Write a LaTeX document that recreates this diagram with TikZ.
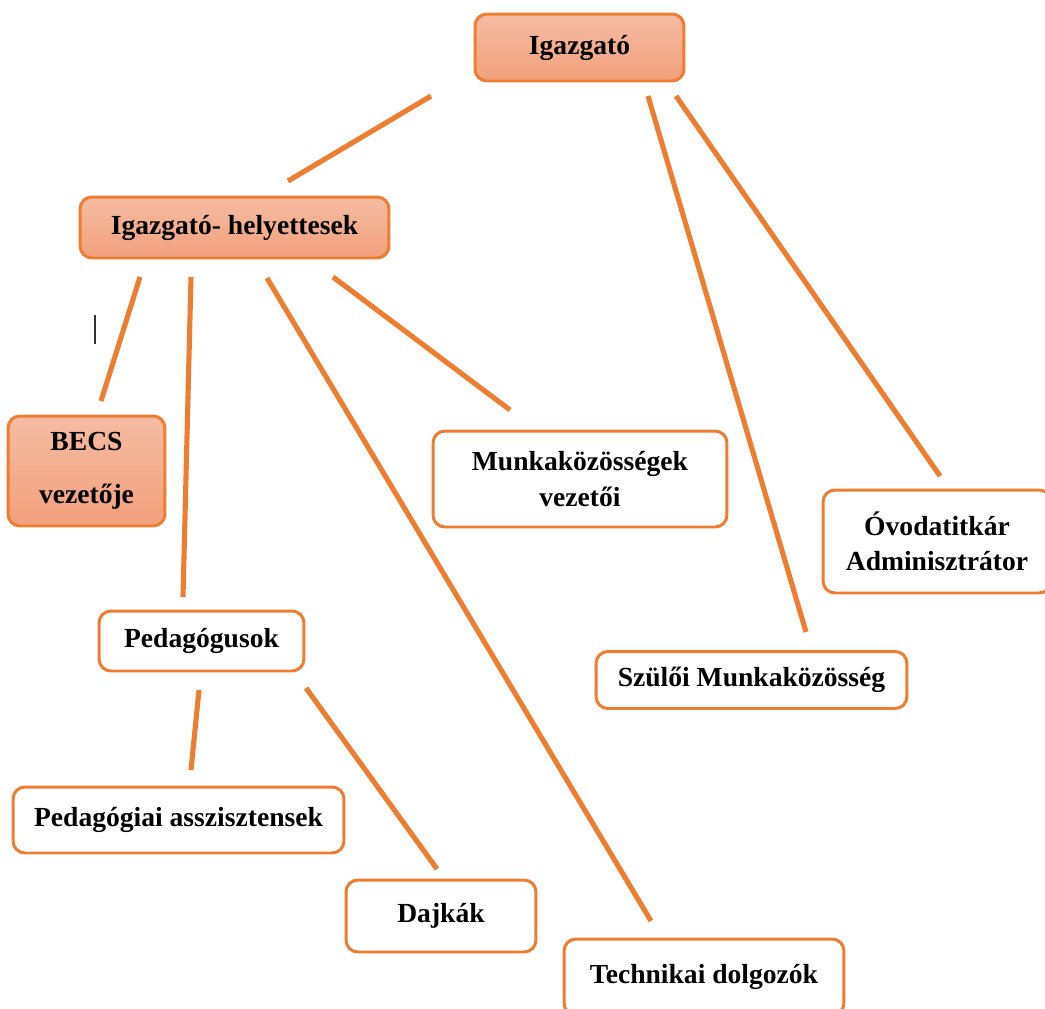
\documentclass[tikz,border=0pt]{standalone}
\usepackage{fontspec}
\setmainfont{Liberation Serif}
\definecolor{orgline}{HTML}{ED7D31}
\definecolor{orgtop}{HTML}{F5BCA3}
\definecolor{orgbot}{HTML}{F2A07C}
\tikzset{
	box/.style={draw=orgline,line width=1.7pt,rounded corners=6.8pt,align=center,inner sep=0pt,
		font=\bfseries\fontsize{15.7}{20}\selectfont},
	lead/.style={box,top color=orgtop,bottom color=orgbot},
	plain/.style={box,fill=white},
	link/.style={orgline,line width=2.9pt},
}
\begin{document}
\begin{tikzpicture}[x=0.02cm,y=-0.02cm]
	\fill[white] (0,0) rectangle (1045,1008);
	\useasboundingbox (0,0) rectangle (1045,1008);
	% boxes
	\node[lead,minimum width=4.18cm,minimum height=1.34cm] (igazgato) at (579.5,47.5) {Igazgató};
	\node[lead,minimum width=6.18cm,minimum height=1.22cm] (helyettes) at (234.5,227.5) {Igazgató- helyettesek};
	\node[lead,minimum width=3.14cm,minimum height=2.2cm] (becs) at (86.5,471) {BECS\\[10pt]vezetője};
	\node[plain,minimum width=5.88cm,minimum height=1.92cm] (munkak) at (580,479) {Munkaközösségek\\vezetői};
	\node[plain,minimum width=4.56cm,minimum height=2.06cm] (titkar) at (937,541.5) {Óvodatitkár\\Adminisztrátor};
	\node[plain,minimum width=6.22cm,minimum height=1.14cm] (szuloi) at (751.5,680) {Szülői Munkaközösség};
	\node[plain,minimum width=4.1cm,minimum height=1.2cm] (pedag) at (201.5,641) {Pedagógusok};
	\node[plain,minimum width=6.62cm,minimum height=1.32cm] (asszisz) at (178.5,820) {Pedagógiai asszisztensek};
	\node[plain,minimum width=3.8cm,minimum height=1.44cm] (dajka) at (441,916) {Dajkák};
	\node[plain,minimum width=5.6cm,minimum height=1.52cm] (techn) at (704,977) {Technikai dolgozók};
	% line ends
	\path
	(431,96) coordinate (ig-hv) (288,181) coordinate (hv-ig)
	(648,96) coordinate (ig-sz) (806,632) coordinate (sz-ig)
	(676,96) coordinate (ig-ti) (940,476) coordinate (ti-ig)
	(140,277) coordinate (hv-be) (101,401) coordinate (be-hv)
	(191,277) coordinate (hv-pe) (183,597) coordinate (pe-hv)
	(267,278) coordinate (hv-te) (651,921) coordinate (te-hv)
	(333,277) coordinate (hv-mu) (510,410) coordinate (mu-hv)
	(199,690) coordinate (pe-as) (191,770) coordinate (as-pe)
	(306,688) coordinate (pe-da) (437,869) coordinate (da-pe);
	\foreach \a/\b in {ig-hv/hv-ig,ig-sz/sz-ig,ig-ti/ti-ig,hv-be/be-hv,hv-pe/pe-hv,hv-te/te-hv,hv-mu/mu-hv,pe-as/as-pe,pe-da/da-pe}
		\draw[link] (\a)--(\b);
	\draw[black!80,line width=0.7pt] (95,315)--(95,344);
\end{tikzpicture}
\end{document}
